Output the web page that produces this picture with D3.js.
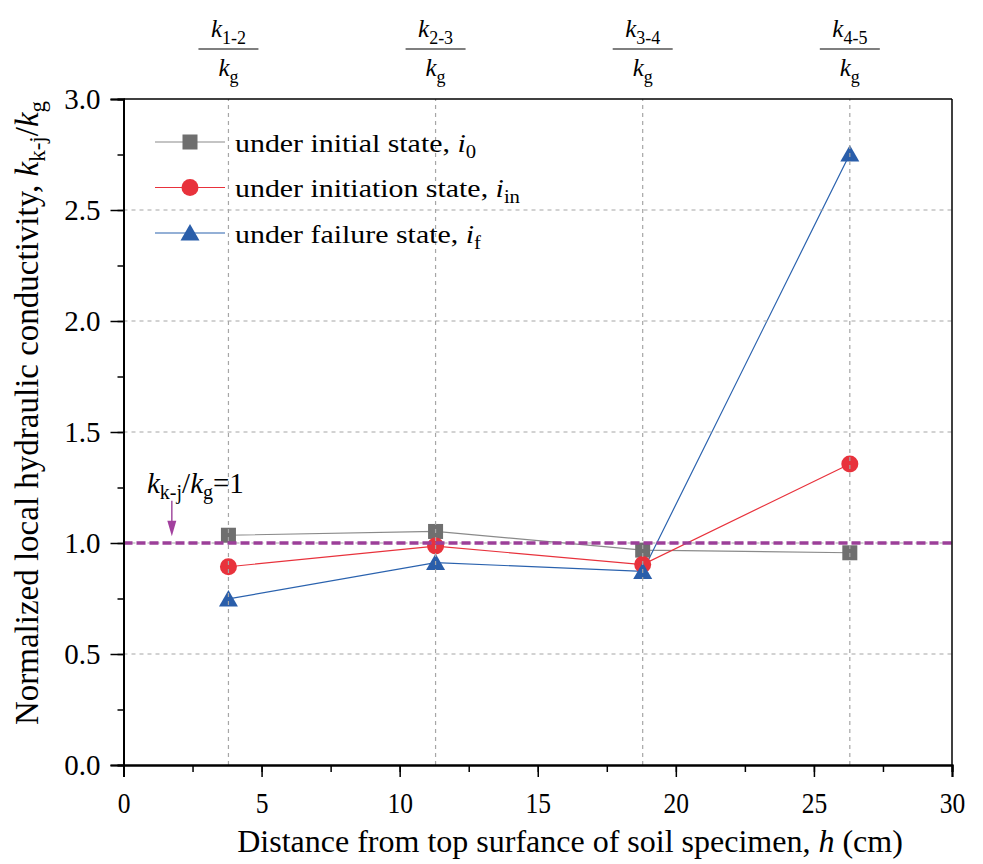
<!DOCTYPE html>
<html><head><meta charset="utf-8">
<script src="https://cdn.jsdelivr.net/npm/d3@7"></script>
<style>body{margin:0;background:#fff}</style>
</head><body><svg id="c" width="983" height="864"></svg>
<script>
const positions = [3.8, 11.3, 18.8, 26.3];
const topLabels = ["1-2", "2-3", "3-4", "4-5"];
const initialState = [1.035, 1.052, 0.968, 0.956];
const initiationState = [0.893, 0.986, 0.903, 1.356];
const failureState = [0.748, 0.912, 0.872, 2.752];
const xTicks = [0, 5, 10, 15, 20, 25, 30];
const yTicks = [0.0, 0.5, 1.0, 1.5, 2.0, 2.5, 3.0];
const seriesNames = ["under initial state, ", "under initiation state, ", "under failure state, "];
const seriesSubs = ["0", "in", "f"];
const refValue = 1.0;

const FONT = "'Liberation Serif'";
const svg = d3.select("#c");
const L = 123.5, R = 952, T = 99, B = 765;
const x = d3.scaleLinear().domain([0, 30]).range([L, R]);
const y = d3.scaleLinear().domain([0, 3]).range([B, T]);

const series = [
  {vals: initialState, line: "#8a8a8a", fill: "#6f6f6f", shape: "square"},
  {vals: initiationState, line: "#e8323c", fill: "#e8323c", shape: "circle"},
  {vals: failureState, line: "#2a62ae", fill: "#2a5eaa", shape: "triangle"}
];
function marker(g, shape, cx, cy, fill) {
  if (shape === "square") g.append("rect").attr("x", cx-7.5).attr("y", cy-7.5).attr("width", 15).attr("height", 15).attr("fill", fill);
  else if (shape === "circle") g.append("circle").attr("cx", cx).attr("cy", cy).attr("r", 8.5).attr("fill", fill);
  else g.append("path").attr("d", `M${cx},${cy-9}L${cx+9.5},${cy+7.5}L${cx-9.5},${cy+7.5}Z`).attr("fill", fill);
}

series.forEach(s => {
  const pts = positions.map((p, i) => [x(p), y(s.vals[i])]);
  svg.append("path").attr("d", d3.line()(pts)).attr("fill", "none").attr("stroke", s.line).attr("stroke-width", 1.2);
});
series.forEach(s => {
  const g = svg.append("g");
  positions.forEach((p, i) => marker(g, s.shape, x(p), y(s.vals[i]), s.fill));
});

const grid = svg.append("g").attr("stroke", "#a6a6a6").attr("stroke-width", 1.2).attr("stroke-dasharray", "4,4");
yTicks.filter(v => v > 0 && v < 3).forEach(v => grid.append("line").attr("x1", L).attr("x2", R).attr("y1", y(v)).attr("y2", y(v)));
positions.forEach(p => grid.append("line").attr("x1", x(p)).attr("x2", x(p)).attr("y1", B).attr("y2", T));

svg.append("line").attr("x1", L).attr("x2", R).attr("y1", y(refValue)).attr("y2", y(refValue))
  .attr("stroke", "#9c3f99").attr("stroke-width", 3.5).attr("stroke-dasharray", "9,4");

const ax = x(1.75);
svg.append("line").attr("x1", ax).attr("x2", ax).attr("y1", y(1.19)).attr("y2", y(1.09)).attr("stroke", "#a24ea0").attr("stroke-width", 1.5);
svg.append("path").attr("d", `M${ax-4.5},${y(1.10)}L${ax+4.5},${y(1.10)}L${ax},${y(1.03)}Z`).attr("fill", "#a2409e");
const ann = svg.append("text").attr("x", x(0.85)).attr("y", 493).attr("font-size", 29);
ann.append("tspan").attr("font-style", "italic").text("k");
ann.append("tspan").attr("font-size", 20).attr("dy", 6).text("k-j");
ann.append("tspan").attr("dy", -6).text("/");
ann.append("tspan").attr("font-style", "italic").text("k");
ann.append("tspan").attr("font-size", 20).attr("dy", 6).text("g");
ann.append("tspan").attr("dy", -6).text("=1");

svg.append("line").attr("x1", L).attr("x2", R).attr("y1", T).attr("y2", T).attr("stroke", "#000").attr("stroke-width", 1.5);
svg.append("line").attr("x1", R).attr("x2", R).attr("y1", T).attr("y2", B).attr("stroke", "#000").attr("stroke-width", 1.5);

svg.append("g").attr("transform", `translate(0,${B})`)
  .call(d3.axisBottom(x).tickValues(d3.range(0, 30.01, 2.5)).tickSize(7).tickFormat(""));
const xMaj = svg.append("g").attr("transform", `translate(0,${B})`)
  .call(d3.axisBottom(x).tickValues(xTicks).tickSize(12).tickFormat(d3.format("d")));
svg.append("g").attr("transform", `translate(${L},0)`)
  .call(d3.axisLeft(y).tickValues(d3.range(0, 3.01, 0.25)).tickSize(6).tickFormat(""));
const yMaj = svg.append("g").attr("transform", `translate(${L},0)`)
  .call(d3.axisLeft(y).tickValues(yTicks).tickSize(13).tickPadding(10).tickFormat(d3.format(".1f")));
svg.selectAll(".domain").attr("stroke", "#000").attr("stroke-width", 2);
svg.selectAll(".tick line").attr("stroke", "#000").attr("stroke-width", 1.5);
svg.selectAll("g").attr("font-family", null);
svg.selectAll(".tick text").attr("fill", "#000");
yMaj.selectAll(".tick text").attr("font-size", 29);
xMaj.selectAll(".tick text").attr("font-size", 30).attr("y", 48).attr("dy", 0)
  .attr("transform", "scale(0.85,1)").attr("x", 0);

positions.forEach((p, i) => {
  const g = svg.append("g").attr("transform", `translate(${x(p)},0)`);
  const num = g.append("text").attr("text-anchor", "middle").attr("y", 37).attr("font-size", 25);
  num.append("tspan").attr("font-style", "italic").text("k");
  num.append("tspan").attr("font-size", 18).attr("dy", 7).text(topLabels[i]);
  g.append("line").attr("x1", -30).attr("x2", 30).attr("y1", 49).attr("y2", 49).attr("stroke", "#000").attr("stroke-width", 1.2);
  const den = g.append("text").attr("text-anchor", "middle").attr("y", 76).attr("font-size", 25);
  den.append("tspan").attr("font-style", "italic").text("k");
  den.append("tspan").attr("font-size", 18).attr("dy", 7).text("g");
});

series.forEach((s, i) => {
  const ly = 142 + i * 45.5;
  svg.append("line").attr("x1", 155).attr("x2", 225).attr("y1", ly).attr("y2", ly).attr("stroke", s.line).attr("stroke-width", 1.2);
  marker(svg.append("g"), s.shape, 190, ly, s.fill);
  const t = svg.append("text").attr("transform", `translate(235,${ly + 9.5}) scale(1.15,1)`).attr("font-size", 26);
  t.append("tspan").text(seriesNames[i]);
  t.append("tspan").attr("font-style", "italic").text("i");
  t.append("tspan").attr("font-size", 18).attr("dy", 6).text(seriesSubs[i]);
});

const xt = svg.append("text").attr("x", 570).attr("y", 852).attr("text-anchor", "middle").attr("font-size", 32);
xt.append("tspan").text("Distance from top surfance of soil specimen, ");
xt.append("tspan").attr("font-style", "italic").text("h");
xt.append("tspan").text(" (cm)");

const yt = svg.append("text").attr("transform", "translate(38,413) rotate(-90)").attr("text-anchor", "middle").attr("font-size", 33);
yt.append("tspan").text("Normalized local hydraulic conductivity, ");
yt.append("tspan").attr("font-style", "italic").text("k");
yt.append("tspan").attr("font-size", 23).attr("dy", 7).text("k-j");
yt.append("tspan").attr("dy", -7).text("/");
yt.append("tspan").attr("font-style", "italic").text("k");
yt.append("tspan").attr("font-size", 23).attr("dy", 7).text("g");

svg.selectAll("text").style("font-family", FONT);
svg.selectAll("tspan").style("font-family", FONT);
</script></body></html>
